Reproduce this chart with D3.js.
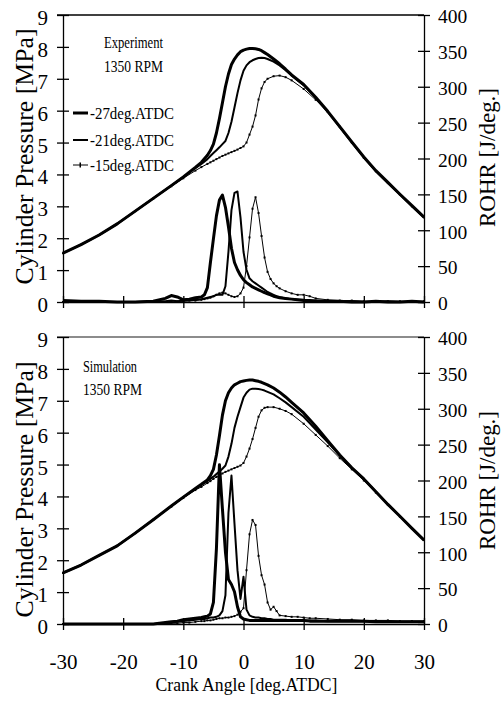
<!DOCTYPE html>
<html>
<head>
<meta charset="utf-8">
<script src="https://cdn.jsdelivr.net/npm/d3@7"></script>
<style>
  body { margin: 0; background: #fff; }
  svg, svg text { font-family: "Liberation Serif", "DejaVu Serif", serif !important; fill: #000; }
</style>
</head>
<body>
<div id="main"></div>
<script>
// ---- data ----
const seriesNames = ["-27deg.ATDC", "-21deg.ATDC", "-15deg.ATDC"];
const pTicks = [0, 1, 2, 3, 4, 5, 6, 7, 8, 9];
const rTicks = [0, 50, 100, 150, 200, 250, 300, 350, 400];
const xTicks = [-30, -20, -10, 0, 10, 20, 30];

// crank angle grid for cylinder pressure (deg ATDC)
const pAngle = [-30,-27,-24,-21,-18,-15,-12,-10,-8,-7,-6,-5.5,-5,-4.5,-4,-3.5,-3,-2.5,-2,-1.5,-1,-0.5,
  0,0.5,1,1.5,2,2.5,3,3.5,4,5,6,7,8,10,12,14,16,18,20,22,24,26,28,30];

// experiment, pressure [MPa]
const expP27 = [1.53,1.8,2.1,2.45,2.85,3.25,3.65,3.92,4.22,4.38,4.6,4.75,4.95,5.3,5.75,6.25,6.75,7.15,7.45,7.62,7.75,7.85,
  7.9,7.93,7.95,7.95,7.94,7.92,7.88,7.82,7.76,7.62,7.47,7.3,7.12,6.82,6.42,5.98,5.5,5.02,4.55,4.12,3.75,3.38,3.02,2.66];
const expP21 = [1.53,1.8,2.1,2.45,2.85,3.25,3.65,3.92,4.2,4.33,4.48,4.58,4.67,4.76,4.85,4.95,5.05,5.3,5.65,6.1,6.55,6.95,
  7.25,7.42,7.52,7.58,7.62,7.65,7.66,7.65,7.62,7.54,7.42,7.27,7.1,6.8,6.4,5.96,5.48,5.0,4.53,4.1,3.73,3.37,3.0,2.65];
const expP15 = [1.53,1.8,2.1,2.45,2.85,3.24,3.63,3.88,4.12,4.23,4.33,4.38,4.43,4.48,4.53,4.58,4.62,4.66,4.7,4.74,4.78,4.83,
  4.88,5.0,5.25,5.5,5.85,6.35,6.7,6.9,7.0,7.08,7.1,7.05,6.95,6.68,6.34,5.96,5.5,5.0,4.52,4.1,3.73,3.37,3.0,2.65];

// simulation, pressure [MPa]
const simP27 = [1.6,1.85,2.15,2.45,2.85,3.27,3.7,3.98,4.25,4.38,4.52,4.65,4.85,5.3,5.9,6.55,7.0,7.25,7.4,7.5,7.55,7.6,
  7.62,7.64,7.65,7.65,7.63,7.61,7.58,7.54,7.5,7.4,7.27,7.12,6.95,6.62,6.2,5.75,5.3,4.9,4.55,4.15,3.75,3.38,3.0,2.63];
const simP21 = [1.6,1.85,2.15,2.45,2.85,3.27,3.7,3.98,4.24,4.36,4.48,4.55,4.62,4.7,4.78,4.87,4.97,5.25,5.65,6.15,6.5,6.8,
  7.1,7.25,7.35,7.38,7.38,7.37,7.35,7.32,7.28,7.2,7.08,6.95,6.8,6.5,6.1,5.7,5.28,4.9,4.55,4.15,3.75,3.38,3.0,2.63];
const simP15 = [1.6,1.85,2.15,2.45,2.85,3.27,3.68,3.95,4.2,4.3,4.42,4.48,4.55,4.61,4.67,4.72,4.77,4.81,4.85,4.89,4.93,4.97,
  5.05,5.25,5.5,5.8,6.15,6.5,6.7,6.78,6.8,6.8,6.75,6.68,6.58,6.28,5.93,5.58,5.2,4.85,4.5,4.12,3.73,3.36,3.0,2.63];

// crank angle grid for rate of heat release (deg ATDC)
const rAngle = [-30,-27,-24,-21,-18,-15,-13,-12,-11,-10,-9,-8,-7,-6.5,-6,-5.5,-5,-4.5,-4,-3.5,-3,-2.5,-2,-1.5,-1,-0.5,
  0,0.5,1,1.5,2,2.5,3,3.5,4,4.5,5,5.5,6,7,8,9,10,11,12,14,16,18,20,22,24,26,28,30];

// experiment, ROHR [J/deg.]
const expR27 = [2,1,1,0,0,1,5,9,7,3,4,6,7,10,20,55,88,120,142,149,132,105,75,55,45,37,
  31,27,24,21,19,17,15,13,11.5,10,8,7,6,5,4,3,2,2,1,1,1,0,0,1,0,0,1,0];
const expR21 = [1,0,0,0,0,1,1,2,1,2,2,3,4,5,6,7,8,10,10,10,22,70,128,152,154,118,
  70,45,33,29,26,23,20,17,14,12,10,8,7,5,4,3,3,2,2,1,1,1,0,0,1,0,0,0];
const expR15 = [0,1,0,0,0,0,0,1,1,1,2,2,3,4,5,6,8,10,12,13,12,10,8,7,8,12,
  20,50,90,130,146,124,92,62,42,32,26,22,19,15,12,10,10,8,5,3,2,2,1,1,1,1,1,1];

// simulation, ROHR [J/deg.]
const simR27 = [0,0,0,0,0,0,2,3,4,6,7,8,9,10,11,14,30,105,222,160,100,62,55,45,24,10,
  7,6,5,5,5,5,5,5,5,5,5,5,5,5,5,5,5,4,4,4,4,4,4,3,3,3,3,3];
const simR21 = [0,0,0,0,0,0,1,2,3,4,5,6,7,7,8,9,9,10,12,18,40,155,207,140,75,35,
  66,20,12,10,9,9,8,8,7,7,6,6,6,6,5,5,5,5,5,4,4,4,4,4,3,3,3,3];
const simR15 = [0,0,0,0,0,0,0,1,1,2,2,3,4,4,5,5,6,7,8,8,9,9,10,11,13,17,
  22,75,125,145,138,95,68,55,30,20,24,18,12,11,10,10,9,8,8,7,6,6,5,5,5,4,4,4];

// ---- drawing ----
const svgWidth = 501;
const svgHeight = 701;
const plotLeft = 63;
const plotRight = 424;
const lineWidths = [3, 2, 1];
const serif = '"Liberation Serif", "DejaVu Serif", serif';

const svg = d3.select("#main").append("svg")
  .attr("width", svgWidth)
  .attr("height", svgHeight)
  .style("font-family", serif);

const x = d3.scaleLinear().domain([-30, 30]).range([plotLeft, plotRight]);

function drawPanel(top, bottom, pSeries, rSeries, borderColor, showX) {
  const yP = d3.scaleLinear().domain([0, 9]).range([bottom, top]);
  const yR = d3.scaleLinear().domain([0, 400]).range([bottom, top]);
  const g = svg.append("g");

  // top border
  g.append("line")
    .attr("x1", plotLeft - 6).attr("x2", plotRight)
    .attr("y1", top).attr("y2", top)
    .attr("stroke", borderColor).attr("stroke-width", 1.6);

  // left axis (pressure)
  const left = g.append("g")
    .attr("transform", "translate(" + plotLeft + ",0)")
    .call(d3.axisLeft(yP).tickValues(pTicks).tickSize(6).tickSizeOuter(0).tickPadding(9)
      .tickFormat(d => String(d)))
    .attr("font-size", 21).attr("font-family", serif);
  left.selectAll(".tick line").attr("x1", 6).attr("stroke-width", 1.3);
  left.selectAll(".tick text").attr("dy", "0.45em").style("font-family", serif);
  left.select(".domain").attr("stroke-width", 1.3);

  // right axis (ROHR)
  const right = g.append("g")
    .attr("transform", "translate(" + plotRight + ",0)")
    .call(d3.axisRight(yR).tickValues(rTicks).tickSize(6).tickSizeOuter(0).tickPadding(8)
      .tickFormat(d => String(d)))
    .attr("font-size", 19.5).attr("font-family", serif);
  right.selectAll(".tick line").attr("x1", -6).attr("stroke-width", 1.3);
  right.selectAll(".tick text").attr("dy", "0.4em").style("font-family", serif);
  right.select(".domain").attr("stroke-width", 1.3);

  // bottom axis (crank angle)
  const xAxis = d3.axisBottom(x).tickValues(xTicks).tickSize(6).tickSizeOuter(0).tickPadding(24)
    .tickFormat(d => showX ? String(d) : "");
  const bot = g.append("g")
    .attr("transform", "translate(0," + bottom + ")")
    .call(xAxis)
    .attr("font-size", 21).attr("font-family", serif);
  bot.selectAll(".tick line").attr("y1", -6).attr("stroke-width", 1.3);
  bot.selectAll(".tick text").style("font-family", serif);
  bot.select(".domain").attr("stroke-width", 1.6);

  // pressure curves
  pSeries.forEach((vals, k) => {
    g.append("path")
      .datum(vals)
      .attr("fill", "none")
      .attr("stroke", "#000")
      .attr("stroke-width", lineWidths[k])
      .attr("stroke-linejoin", "round")
      .attr("d", d3.line().x((d, i) => x(pAngle[i])).y(d => yP(d)));
  });
  // ROHR curves
  rSeries.forEach((vals, k) => {
    g.append("path")
      .datum(vals)
      .attr("fill", "none")
      .attr("stroke", "#000")
      .attr("stroke-width", lineWidths[k])
      .attr("stroke-linejoin", "round")
      .attr("d", d3.line().x((d, i) => x(rAngle[i])).y(d => yR(d)));
  });
  // small markers on the -15 deg series
  g.append("g").selectAll("rect")
    .data(pSeries[2])
    .join("rect")
    .attr("x", (d, i) => x(pAngle[i]) - 1)
    .attr("y", d => yP(d) - 1)
    .attr("width", 2).attr("height", 2)
    .attr("fill", "#000");
  g.append("g").selectAll("rect")
    .data(rSeries[2])
    .join("rect")
    .attr("x", (d, i) => x(rAngle[i]) - 1)
    .attr("y", d => yR(d) - 1)
    .attr("width", 2).attr("height", 2)
    .attr("fill", "#000");

  // axis titles
  svg.append("text")
    .attr("transform", "translate(33," + ((top + bottom) / 2 + (showX ? 9 : -2)) + ") rotate(-90)")
    .attr("text-anchor", "middle")
    .attr("font-size", 25)
    .attr("textLength", 256)
    .attr("lengthAdjust", "spacingAndGlyphs")
    .style("font-family", serif)
    .text("Cylinder Pressure [MPa]");
  svg.append("text")
    .attr("transform", "translate(495," + ((top + bottom) / 2 + (showX ? 0 : -1)) + ") rotate(-90)")
    .attr("text-anchor", "middle")
    .attr("font-size", 24)
    .attr("textLength", 139)
    .attr("lengthAdjust", "spacingAndGlyphs")
    .style("font-family", serif)
    .text("ROHR [J/deg.]");
}

drawPanel(15, 302, [expP27, expP21, expP15], [expR27, expR21, expR15], "#000", false);
drawPanel(337, 624, [simP27, simP21, simP15], [simR27, simR21, simR15], "#666", true);

// x label
svg.append("text")
  .attr("x", 246.5).attr("y", 691)
  .attr("text-anchor", "middle")
  .attr("font-size", 19.5)
  .attr("textLength", 182)
  .attr("lengthAdjust", "spacingAndGlyphs")
  .style("font-family", serif)
  .text("Crank Angle [deg.ATDC]");

// panel notes
const notes = [
  { t: "Experiment", x: 104, y: 48, w: 59 },
  { t: "1350 RPM", x: 104, y: 71.5, w: 59 },
  { t: "Simulation", x: 83, y: 371.5, w: 54 },
  { t: "1350 RPM", x: 83, y: 395, w: 59 }
];
svg.selectAll("text.note")
  .data(notes)
  .join("text")
  .attr("class", "note")
  .attr("x", d => d.x).attr("y", d => d.y)
  .attr("font-size", 16.5)
  .attr("textLength", d => d.w)
  .attr("lengthAdjust", "spacingAndGlyphs")
  .style("font-family", serif)
  .text(d => d.t);

// legend
const legY = [113, 140, 165];
const legend = svg.append("g");
legend.selectAll("line")
  .data(seriesNames)
  .join("line")
  .attr("x1", 73).attr("x2", 88)
  .attr("y1", (d, i) => legY[i]).attr("y2", (d, i) => legY[i])
  .attr("stroke", "#000")
  .attr("stroke-width", (d, i) => lineWidths[i]);
legend.append("rect")
  .attr("x", 79.5).attr("y", legY[2] - 2.5)
  .attr("width", 1.5).attr("height", 5)
  .attr("fill", "#000");
legend.selectAll("text")
  .data(seriesNames)
  .join("text")
  .attr("x", 90)
  .attr("y", (d, i) => legY[i] + 6)
  .attr("font-size", 17)
  .attr("textLength", 84)
  .attr("lengthAdjust", "spacingAndGlyphs")
  .style("font-family", serif)
  .text(d => d);
</script>
</body>
</html>
